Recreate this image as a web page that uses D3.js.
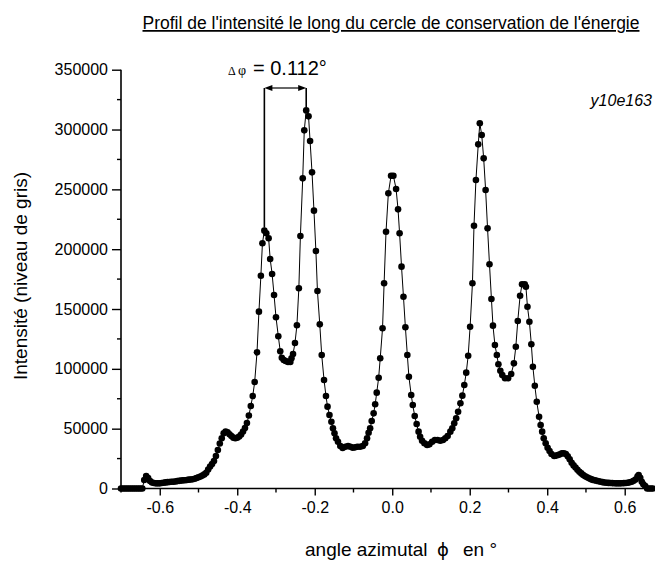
<!DOCTYPE html>
<html><head><meta charset="utf-8">
<script src="https://d3js.org/d3.v7.min.js"></script>
<style>
html,body{margin:0;padding:0;background:#fff;}
svg{display:block;}
text{font-family:"Liberation Sans",Arial,sans-serif;fill:#000;}
</style></head>
<body><svg id="c" width="655" height="566"></svg>
<script>
const title = "Profil de l'intensité le long du cercle de conservation de l'énergie";
const yTitle = "Intensité (niveau de gris)";
const sampleLabel = "y10e163";
const deltaLabel = "= 0.112°";
const xTickValues = [-0.6, -0.4, -0.2, 0.0, 0.2, 0.4, 0.6];
const xMinorTicks = [-0.7, -0.5, -0.3, -0.1, 0.1, 0.3, 0.5];
const yTickValues = [0, 50000, 100000, 150000, 200000, 250000, 300000, 350000];
const yMinorTicks = [25000, 75000, 125000, 175000, 225000, 275000, 325000];

const angles = [
-0.700,-0.695,-0.690,-0.685,-0.680,-0.675,-0.670,-0.665,-0.660,-0.655,-0.650,-0.645,
-0.640,-0.635,-0.630,-0.625,-0.620,-0.615,-0.610,-0.605,-0.600,-0.595,-0.590,-0.585,
-0.580,-0.575,-0.570,-0.565,-0.560,-0.555,-0.550,-0.545,-0.540,-0.535,-0.530,-0.525,
-0.520,-0.515,-0.510,-0.505,-0.500,-0.495,-0.490,-0.485,-0.480,-0.475,-0.470,-0.465,
-0.460,-0.455,-0.450,-0.445,-0.440,-0.435,-0.430,-0.425,-0.420,-0.415,-0.410,-0.405,
-0.400,-0.395,-0.390,-0.385,-0.380,-0.375,-0.370,-0.365,-0.360,-0.355,
-0.349,-0.344,-0.339,-0.335,-0.330,-0.325,-0.319,-0.315,-0.310,-0.305,-0.300,-0.294,
-0.289,-0.285,-0.280,-0.275,-0.269,-0.263,-0.260,-0.256,-0.251,-0.246,-0.241,-0.237,
-0.231,-0.227,-0.222,-0.216,-0.212,-0.207,-0.202,-0.197,-0.193,-0.187,-0.182,-0.176,
-0.171,-0.167,-0.162,-0.157,-0.153,-0.149,-0.145,-0.140,-0.134,-0.128,-0.121,-0.114,
-0.108,-0.102,-0.096,-0.090,-0.083,-0.076,-0.070,-0.065,-0.061,-0.057,-0.053,-0.048,
-0.044,-0.040,-0.035,-0.031,-0.025,-0.021,-0.016,-0.010,-0.003,0.003,0.010,0.015,
0.019,0.024,0.029,0.034,0.039,0.043,0.049,0.053,0.058,0.063,0.068,0.072,
0.077,0.083,0.090,0.096,0.103,0.110,0.117,0.124,0.131,0.137,0.143,0.150,
0.155,0.160,0.165,0.170,0.176,0.181,0.186,0.191,0.196,0.201,0.207,0.211,
0.216,0.222,0.226,0.231,0.236,0.241,0.246,0.251,0.256,0.260,0.265,0.270,
0.274,0.279,0.284,0.291,0.299,0.307,0.314,0.319,0.324,0.330,0.335,0.342,
0.345,0.349,0.354,0.359,0.363,0.368,0.373,0.379,0.383,0.387,0.391,0.396,
0.401,0.406,0.411,0.418,0.423,0.428,0.433,0.438,0.443,0.448,0.453,0.458,
0.463,0.468,0.473,0.478,0.483,0.488,0.493,0.498,0.503,0.508,0.513,0.518,
0.523,0.528,0.533,0.538,0.543,0.548,0.553,0.558,0.563,0.568,0.573,0.578,
0.583,0.588,0.593,0.598,0.603,0.608,0.613,0.618,0.623,0.628,0.633,0.636,
0.640,0.644,0.648,0.653,0.658,0.663,0.668,0.673];

const intensities = [
0,0,0,0,0,0,0,0,0,0,0,0,
7100,10400,8800,6300,5000,4600,4300,4300,4300,4600,4800,5100,
5300,5400,5600,5700,5900,6200,6400,6600,6800,6900,7100,7400,
7500,7700,8200,8800,9400,10000,10800,11800,13100,15900,18400,20500,
23000,27200,32200,37600,42000,46100,47500,47000,45400,43900,42500,42000,
42400,43500,45100,47600,50600,54700,61000,68900,77300,89000,
113800,147800,177800,204900,215500,213300,209100,191800,179300,161700,143100,127200,
114600,109300,107400,106500,105700,105700,108800,112400,121600,136400,167300,211000,
259200,299300,316000,311000,290400,264200,232200,198500,165000,137200,111600,90700,
77300,68400,61400,55800,50300,46100,42000,39100,35500,33800,34900,35500,
34900,34100,34400,34900,34900,35500,37800,42000,46600,50300,56400,62800,
70400,80100,92600,108800,133900,171500,214600,246700,261400,261400,250300,233300,
213300,185400,160300,134700,111600,93400,78100,69800,60600,53900,47500,43300,
39900,37800,36400,36900,39100,40500,40500,39900,40500,42000,43900,47500,
50300,54500,58700,64200,71200,77600,86500,96800,111000,135200,171500,219600,
257800,287600,305200,295400,275900,249500,217400,187400,158400,136100,119900,111600,
103800,98400,94900,92100,92100,95700,104600,118500,140000,161100,170700,170700,
168600,151900,139400,120500,101800,85900,72500,60000,53100,47500,42000,37800,
34100,31300,28800,27200,27500,28000,28600,29400,29400,28800,27000,24500,
21500,19300,17500,15600,14000,12600,11300,10300,9400,8600,7800,7200,
6800,6400,6000,5600,5300,5000,4800,4700,4600,4500,4400,4300,
4300,4300,4400,4500,4600,4800,5200,5700,6500,7500,10000,11300,
9000,5700,3500,2000,0,0,0,0];

const data = angles.map((a,i)=>({a, v:intensities[i]}));

const svg = d3.select("#c");
const x = d3.scaleLinear().domain([-0.7, 0.673]).range([121, 653]);
const y = d3.scaleLinear().domain([0, 350000]).range([488.5, 69.7]);

// Title
svg.append("text").attr("x", 391).attr("y", 29).attr("text-anchor","middle")
  .style("font-size","17.5px").style("text-decoration","underline").text(title);

// axes
const xAxis = d3.axisBottom(x).tickValues(xTickValues).tickSize(7).tickPadding(6)
  .tickFormat(d => d.toFixed(1));
const gx = svg.append("g").attr("transform",`translate(0,${y(0)})`).call(xAxis);
gx.select(".domain").attr("stroke-width",1.6).attr("d",`M${x(-0.7)},0H${x(0.673)}`);
gx.selectAll(".tick line").attr("stroke-width",1.4);
gx.selectAll("text").style("font-size","16px").attr("font-family",null);
const gxm = svg.append("g").attr("transform",`translate(0,${y(0)})`);
gxm.selectAll("line").data(xMinorTicks).join("line")
  .attr("x1",d=>x(d)).attr("x2",d=>x(d)).attr("y1",0).attr("y2",4).attr("stroke","#000").attr("stroke-width",1.4);

const yAxis = d3.axisLeft(y).tickValues(yTickValues).tickSize(9).tickPadding(4)
  .tickFormat(d3.format("d"));
const gy = svg.append("g").attr("transform",`translate(${x(-0.7)},0)`).call(yAxis);
gy.select(".domain").attr("stroke-width",1.6).attr("d",`M0,${y(0)}V${y(350000)}`);
gy.selectAll(".tick line").attr("stroke-width",1.4);
gy.selectAll("text").style("font-size","16px").attr("font-family",null);
const gym = svg.append("g").attr("transform",`translate(${x(-0.7)},0)`);
gym.selectAll("line").data(yMinorTicks).join("line")
  .attr("x1",-4).attr("x2",0).attr("y1",d=>y(d)).attr("y2",d=>y(d)).attr("stroke","#000").attr("stroke-width",1.4);

// axis titles
svg.append("text").attr("transform","translate(27,276) rotate(-90)").attr("text-anchor","middle")
  .style("font-size","19px").text(yTitle);
const xt = svg.append("text").attr("x",305).attr("y",556).style("font-size","19px").style("white-space","pre");
xt.append("tspan").text("angle azimutal");
xt.append("tspan").attr("x",437).style("font-family","'DejaVu Sans'").style("font-size","18px").text("ϕ");
xt.append("tspan").attr("x",463).text("en °");

// line + points
const line = d3.line().x(d=>x(d.a)).y(d=>y(d.v));
svg.append("path").datum(data).attr("d",line).attr("fill","none").attr("stroke","#000").attr("stroke-width",1);
svg.append("g").selectAll("circle").data(data).join("circle")
  .attr("cx",d=>x(d.a)).attr("cy",d=>y(d.v)).attr("r",3.3).attr("fill","#000");

// annotation: delta phi between the two first peaks
const p1 = data.filter(d=>d.a>-0.36 && d.a<-0.3).reduce((m,d)=>d.v>m.v?d:m);
const p2 = data.filter(d=>d.a>-0.26 && d.a<-0.18).reduce((m,d)=>d.v>m.v?d:m);
const ay = 88;
svg.append("line").attr("x1",x(p1.a)).attr("x2",x(p1.a)).attr("y1",ay).attr("y2",y(p1.v)-3)
  .attr("stroke","#000").attr("stroke-width",1.6);
svg.append("line").attr("x1",x(p2.a)).attr("x2",x(p2.a)).attr("y1",ay).attr("y2",y(p2.v)-3)
  .attr("stroke","#000").attr("stroke-width",1.6);
svg.append("line").attr("x1",x(p1.a)+6).attr("x2",x(p2.a)-6).attr("y1",ay).attr("y2",ay)
  .attr("stroke","#000").attr("stroke-width",1.2);
svg.append("path").attr("d",`M${x(p1.a)},${ay}l8,-3v6z`).attr("fill","#000");
svg.append("path").attr("d",`M${x(p2.a)},${ay}l-8,-3v6z`).attr("fill","#000");
const dt = svg.append("text").attr("x",228).attr("y",75);
dt.append("tspan").style("font-family","'Liberation Serif','Times New Roman',serif").style("font-size","12px").text("Δ");
dt.append("tspan").attr("x",238).style("font-family","'Liberation Serif','Times New Roman',serif").style("font-size","14px").text("φ");
dt.append("tspan").attr("x",253).style("font-size","20px").text(deltaLabel);

svg.append("text").attr("x",652).attr("y",106).attr("text-anchor","end")
  .style("font-size","16px").style("font-style","italic").text(sampleLabel);
</script></body></html>
